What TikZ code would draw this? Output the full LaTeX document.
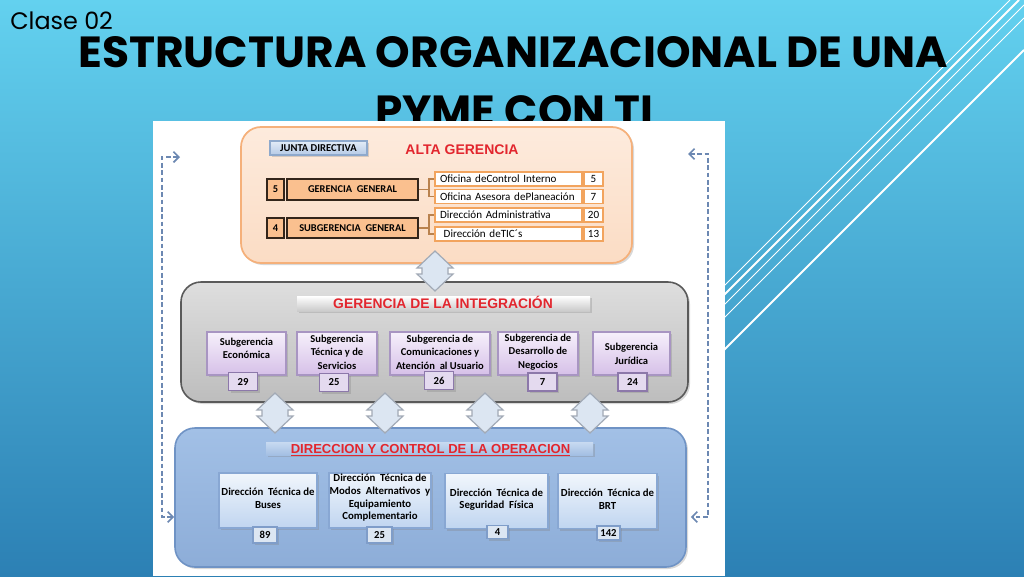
\documentclass[tikz,border=0pt]{standalone}
\usepackage{graphicx}
\usepackage{fontspec}
\setmainfont{Carlito}
\newfontfamily\arialf{Liberation Sans}
\newfontfamily\titlef{Poppins}
\usetikzlibrary{arrows.meta,shadows}
\definecolor{bgtop}{HTML}{63D1EF}
\definecolor{bgbot}{HTML}{2C80B4}
\definecolor{agfillt}{HTML}{FDEBDD}
\definecolor{agfillb}{HTML}{FBDCC4}
\definecolor{agline}{HTML}{F5B07A}
\definecolor{orfill}{HTML}{FAC08F}
\definecolor{orline}{HTML}{33251A}
\definecolor{lstline}{HTML}{F2A45E}
\definecolor{brkc}{HTML}{B9824E}
\definecolor{jdt}{HTML}{E3ECF7}
\definecolor{jdb}{HTML}{B5CAE6}
\definecolor{jdl}{HTML}{8EA9CC}
\definecolor{git}{HTML}{DEDEDE}
\definecolor{gib}{HTML}{BDBDBD}
\definecolor{gil}{HTML}{5A5A5A}
\definecolor{pt}{HTML}{F6F0FB}
\definecolor{pb}{HTML}{D6C0E8}
\definecolor{pl}{HTML}{A895C2}
\definecolor{pnf}{HTML}{E4DAEF}
\definecolor{pnl}{HTML}{8C78AA}
\definecolor{dot}{HTML}{A2C0E6}
\definecolor{dob}{HTML}{8DADD8}
\definecolor{dol}{HTML}{6F93C5}
\definecolor{dht}{HTML}{C8DAF1}
\definecolor{dhb}{HTML}{A3BFE3}
\definecolor{dbt}{HTML}{F1F6FC}
\definecolor{dbb}{HTML}{C0D5F0}
\definecolor{dbl}{HTML}{88A7D3}
\definecolor{dnf}{HTML}{DCE6F2}
\definecolor{dnl}{HTML}{7F9DC9}
\definecolor{diamf}{HTML}{DCE6F2}
\definecolor{diaml}{HTML}{A2AAB6}
\definecolor{dashc}{HTML}{6C88B2}
\definecolor{redt}{HTML}{E2262E}
\begin{document}
\begin{tikzpicture}[x=0.75pt,y=-0.75pt,
  wh/.style 2 args={minimum width=#1*0.75pt,minimum height=#2*0.75pt,inner sep=0pt},
  shad/.style={drop shadow={opacity=0.3,shadow xshift=1.5pt,shadow yshift=-1.5pt}},
  agbox/.style={top color=agfillt,bottom color=agfillb,draw=agline,line width=1.3pt,rounded corners=15pt,shad},
  orbox/.style={fill=orfill,draw=orline,line width=1.5pt,font=\bfseries\fontsize{7.8}{9}\selectfont},
  lstbox/.style={fill=white,draw=lstline,line width=1.3pt,font=\fontsize{8.3}{9}\selectfont},
  jdbox/.style={top color=jdt,bottom color=jdb,draw=jdl,line width=0.8pt,font=\bfseries\fontsize{7.9}{8}\selectfont,shad},
  gibox/.style={top color=git,bottom color=gib,draw=gil,line width=1.2pt,rounded corners=15pt,shad},
  gihdr/.style={top color=white,bottom color=gib!80,draw=none,shad},
  pbox/.style={top color=pt,bottom color=pb,draw=pl,line width=0.8pt,shad},
  pnum/.style={fill=pnf,draw=pnl,line width=0.8pt,font=\bfseries\fontsize{8}{9}\selectfont,shad},
  dobox/.style={top color=dot,bottom color=dob,draw=dol,line width=1.2pt,rounded corners=15pt,shad},
  dohdr/.style={top color=dht,bottom color=dhb,draw=none,shad},
  dbox/.style={top color=dbt,bottom color=dbb,draw=dbl,line width=0.8pt,shad},
  dnum/.style={fill=dnf,draw=dnl,line width=0.8pt,font=\bfseries\fontsize{8}{9}\selectfont,shad},
  btxt/.style={inner sep=0pt,align=center,font=\bfseries\fontsize{7.9}{10.2}\selectfont},
  dtxt/.style={inner sep=0pt,align=center,font=\bfseries\fontsize{8.1}{9.5}\selectfont},
  redhdr/.style={inner sep=0pt,text=redt,anchor=base},
  brk/.style={draw=brkc,line width=0.8pt},
  fb/.style={draw=dashc,line width=1.2pt,dash pattern=on 3.5pt off 2pt,
     {Straight Barb[length=4pt,width=8pt]}-{Straight Barb[length=4pt,width=8pt]}},
  updown/.pic={\filldraw[fill=diamf,draw=diaml,line width=0.9pt]
     (0,-20)--(18,-3)--(13,-3)--(13,3)--(18,3)--(0,20)--(-18,3)--(-13,3)--(-13,-3)--(-18,-3)--cycle;}
]
\useasboundingbox (0,0) rectangle (1024,576);
% background
\fill[top color=bgtop,bottom color=bgbot] (0,0) rectangle (1024,576);
\foreach \sx/\sy/\w in {1010/0/0.7,1019/0/1.4,1024/5/0.7,1024/18/0.7,1024/50/1.5}
  \draw[white,line width=\w pt] (\sx,\sy) -- ++(-430,430);
% titles
\node[anchor=base west,inner sep=0pt] (cls) at (10,29) {\resizebox{77pt}{!}{\titlef Clase 02}};
\node[anchor=base west,inner sep=0pt] (t1) at (78,67) {\resizebox{652.5pt}{23.25pt}{\titlef\bfseries ESTRUCTURA ORGANIZACIONAL DE UNA}};
\node[anchor=base west,inner sep=0pt] (t2) at (375,126) {\resizebox{208.5pt}{23.25pt}{\titlef\bfseries PYME CON TI}};
% white panel
\fill[white] (153,121) rectangle (725,576);

% ALTA GERENCIA group
\node[agbox,wh={391}{136}] (ag) at (436.5,195) {};
\node[jdbox,wh={97}{14}] (jd) at (318.5,148) {JUNTA DIRECTIVA};
\node[redhdr,font=\arialf\bfseries\fontsize{10.5}{12}\selectfont] (agt) at (462,154) {ALTA GERENCIA};
\node[orbox,wh={17}{21}] (n5) at (275.5,189.5) {5};
\node[orbox,wh={131}{21}] (gg) at (352.5,189.5) {GERENCIA\ \ GENERAL};
\node[orbox,wh={17}{20}] (n4) at (275.5,228) {4};
\node[orbox,wh={131}{20}] (sg) at (352.5,228) {SUBGERENCIA\ \ GENERAL};
\node[lstbox,wh={147}{14},text width=137*0.75pt,align=left] (r1) at (508.5,179) {Oficina deControl Interno};
\node[lstbox,wh={147}{14},text width=137*0.75pt,align=left] (r2) at (508.5,196.5) {Oficina Asesora dePlaneación};
\node[lstbox,wh={147}{14},text width=137*0.75pt,align=left] (r3) at (508.5,215) {Dirección Administrativa};
\node[lstbox,wh={147}{14},text width=137*0.75pt,align=left] (r4) at (508.5,234) {\ Dirección deTIC´s};
\node[lstbox,wh={19}{14}] (q1) at (593.5,179) {5};
\node[lstbox,wh={19}{14}] (q2) at (593.5,196.5) {7};
\node[lstbox,wh={19}{14}] (q3) at (593.5,215) {20};
\node[lstbox,wh={19}{14}] (q4) at (593.5,234) {13};
\draw[brk] (gg.east) -- ++(10,0) |- (r1.west);
\draw[brk] (gg.east) ++(10,0) |- (r2.west);
\draw[brk] (sg.east) -- ++(10,0) |- (r3.west);
\draw[brk] (sg.east) ++(10,0) |- (r4.west);

% GERENCIA DE LA INTEGRACION group
\node[gibox,wh={507}{120}] (gi) at (434.5,342) {};
\node[gihdr,wh={293}{15}] (gih) at (443.5,303.5) {};
\node[redhdr,font=\arialf\bfseries\fontsize{10.4}{12}\selectfont] (git) at (443,308.5) {GERENCIA DE LA INTEGRACIÓN};
\node[pbox,wh={79}{43}] (p1) at (246.5,353.5) {};
\node[pbox,wh={80}{43}] (p2) at (337,353.5) {};
\node[pbox,wh={100}{43}] (p3) at (440,353.5) {};
\node[pbox,wh={80}{43}] (p4) at (538,353.5) {};
\node[pbox,wh={77}{43}] (p5) at (631.5,353.5) {};
\node[btxt] (p1t) at (246.5,348.5) {Subgerencia\\Económica};
\node[btxt] (p2t) at (337,352) {Subgerencia\\Técnica y de\\Servicios};
\node[btxt] (p3t) at (440,352) {Subgerencia de\\Comunicaciones y\\Atención\ \ al Usuario};
\node[btxt] (p4t) at (538,352) {Subgerencia de\\Desarrollo de\\Negocios};
\node[btxt] (p5t) at (631.5,354) {Subgerencia\\Jurídica};
\node[pnum,wh={29}{18}] (pn1) at (243,381.5) {29};
\node[pnum,wh={29}{18}] (pn2) at (334,382.5) {25};
\node[pnum,wh={29}{18}] (pn3) at (439,380.5) {26};
\node[pnum,wh={29}{18}] (pn4) at (542.5,382) {7};
\node[pnum,wh={29}{18}] (pn5) at (632.5,382) {24};

% DIRECCION Y CONTROL group
\node[dobox,wh={511}{139}] (do) at (430.5,497.5) {};
\node[dohdr,wh={327}{13}] (doh) at (429.5,448.5) {};
\node[redhdr,font=\arialf\bfseries\fontsize{9.8}{12}\selectfont] (dott) at (430.5,453) {\underline{DIRECCION Y CONTROL DE LA OPERACION}};
\node[dbox,wh={98}{55}] (b1) at (268,500.5) {};
\node[dbox,wh={102}{55}] (b2) at (380,500.5) {};
\node[dbox,wh={103}{55}] (b3) at (496.5,501) {};
\node[dbox,wh={99}{55}] (b4) at (607.5,501) {};
\node[dtxt] (b1t) at (268,498) {Dirección\ \ Técnica de\\Buses};
\node[dtxt] (b2t) at (380,498) {Dirección\ \ Técnica de\\Modos\ \ Alternativos\ \ y\\Equipamiento\\Complementario};
\node[dtxt] (b3t) at (496.5,499.5) {Dirección\ \ Técnica de\\Seguridad\ \ Física};
\node[dtxt] (b4t) at (607.5,499) {Dirección\ \ Técnica de\\BRT};
\node[dnum,wh={24}{16}] (m1) at (265,535) {89};
\node[dnum,wh={25}{16}] (m2) at (379.5,535) {25};
\node[dnum,wh={21}{13}] (m3) at (497.5,532) {4};
\node[dnum,wh={23}{14}] (m4) at (608.5,533) {142};

% up-down connectors
\path (435,271) pic {updown};
\path (275,413) pic {updown};
\path (385,413) pic {updown};
\path (485,413) pic {updown};
\path (590,413) pic {updown};

% feedback dashed arrows
\coordinate (lt) at (180,157);
\coordinate (lb) at (do.west |- 0,517);
\coordinate (rt) at (688,154);
\coordinate (rb) at (do.east |- 0,517);
\draw[fb] (lt) -- ++(-18,0) |- (lb);
\draw[fb] (rt) -- ++(20,0) |- ([xshift=3pt]rb);
\end{tikzpicture}
\end{document}
